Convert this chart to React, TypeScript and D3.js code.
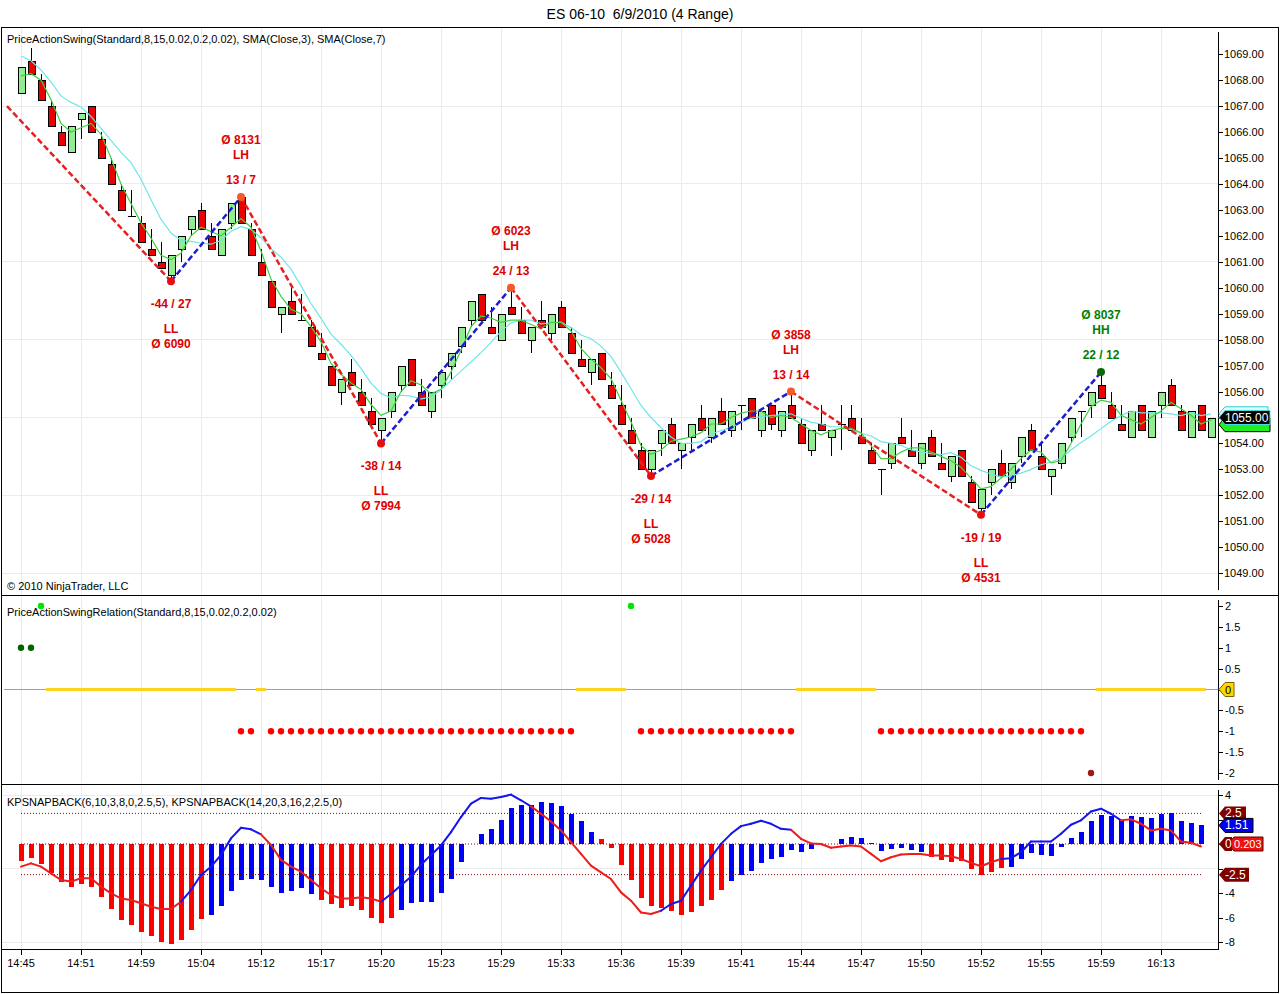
import * as d3 from 'd3';

// ES 06-10 4 Range, 6/9/2010 - one entry per range bar
const opens = [
  1067.5, 1068.75, 1068, 1067, 1066, 1065.25, 1066.5, 1067, 1065.75, 1064.75,
  1063.75, 1062.75, 1062.5, 1061.5, 1061, 1060.5, 1061.5, 1062.25, 1063, 1062,
  1061.25, 1062.5, 1063.5, 1062.25, 1061, 1060.25, 1059, 1059.5, 1058.75, 1058.5,
  1057.5, 1057, 1056, 1056.75, 1056, 1055.25, 1054.5, 1055.25, 1056.25, 1057.25,
  1056, 1055.25, 1056.25, 1057, 1057.75, 1058.75, 1059.75, 1058.5, 1058, 1059.25,
  1058.75, 1058, 1058.75, 1058.25, 1059.25, 1058.25, 1057.25, 1056.75, 1057.5, 1056.25,
  1055.5, 1054.5, 1053.75, 1053, 1054, 1054.75, 1053.75, 1054.25, 1055, 1054.25,
  1055.25, 1054.5, 1055.5, 1055.75, 1054.5, 1055.5, 1054.5, 1055.5, 1054.75, 1053.75,
  1054.75, 1054.25, 1054.75, 1055, 1054.25, 1053.75, 1053, 1053.25, 1054.25, 1053.75,
  1053.25, 1054.25, 1053.25, 1052.75, 1053.75, 1052.5, 1051.5, 1052.5, 1053.25, 1052.5,
  1053.5, 1054.5, 1053.5, 1052.75, 1053.25, 1054.25, 1055.25, 1055.5, 1056.25, 1055.5,
  1054.75, 1054.25, 1055.5, 1054.25, 1055.5, 1056.25, 1055.25, 1054.25, 1055.5, 1054.25,
];
const highs = [
  1068.5, 1069.25, 1068.25, 1067.25, 1066.25, 1066.25, 1066.75, 1067, 1066, 1065,
  1064, 1063.75, 1062.75, 1062.25, 1061.75, 1061.25, 1062, 1062.75, 1063.25, 1062.5,
  1062.25, 1063.25, 1063.5, 1062.5, 1061.5, 1060.25, 1059.25, 1060, 1059.75, 1058.75,
  1058.25, 1057, 1056.5, 1057.25, 1056.5, 1055.75, 1055, 1056, 1057, 1057.25,
  1056.5, 1056, 1056.75, 1057.5, 1058.5, 1059.5, 1059.75, 1059.25, 1059, 1060,
  1059.25, 1058.5, 1059.5, 1059, 1059.5, 1058.5, 1058, 1057.25, 1057.5, 1056.75,
  1056.25, 1055, 1054, 1053.75, 1054.5, 1055, 1054, 1054.75, 1055.5, 1055,
  1055.75, 1055.25, 1055.5, 1055.75, 1055.25, 1055.5, 1055.25, 1056, 1055, 1054.5,
  1055.5, 1054.5, 1055.5, 1055.5, 1055, 1054, 1053, 1054, 1055, 1054.5,
  1054, 1054.5, 1054, 1053.5, 1053.75, 1052.75, 1052.25, 1053, 1053.75, 1053.25,
  1054.25, 1054.75, 1054, 1053, 1054, 1055, 1055.25, 1056, 1056.75, 1056,
  1055.5, 1055.25, 1055.5, 1055.25, 1056, 1056.5, 1055.5, 1055.25, 1055.5, 1055,
];
const lows = [
  1067.5, 1068.25, 1067.25, 1066.25, 1065.5, 1065.25, 1065.75, 1066, 1065, 1064,
  1063, 1062.75, 1061.75, 1061.25, 1060.75, 1060.25, 1061, 1062, 1062.25, 1061.5,
  1061.25, 1062.25, 1062.5, 1061.25, 1060.5, 1059.25, 1058.25, 1059, 1058.75, 1057.75,
  1057.25, 1056.25, 1055.5, 1056.25, 1055.5, 1054.75, 1054, 1055, 1056, 1056.25,
  1055.5, 1055, 1055.75, 1056.5, 1057.5, 1058.5, 1058.75, 1058.25, 1058, 1059,
  1058.25, 1057.5, 1058.5, 1058, 1058.5, 1057.5, 1057, 1056.25, 1056.5, 1055.75,
  1054.75, 1054, 1053, 1052.75, 1053.5, 1054, 1053, 1053.75, 1054.5, 1054,
  1054.75, 1054.25, 1054.5, 1055, 1054.25, 1054.5, 1054.25, 1055, 1054, 1053.5,
  1054.5, 1053.5, 1053.75, 1054.5, 1054, 1053.25, 1052, 1053, 1054, 1053.5,
  1053, 1053.5, 1053, 1052.5, 1052.75, 1051.75, 1051.25, 1052, 1052.75, 1052.25,
  1053.25, 1053.75, 1053, 1052, 1053, 1054, 1054.25, 1055, 1055.75, 1055,
  1054.5, 1054.25, 1054.5, 1054.25, 1055, 1055.5, 1054.5, 1054.25, 1054.5, 1054.25,
];
const closes = [
  1068.5, 1068.25, 1067.25, 1066.25, 1065.5, 1066.25, 1066.75, 1066, 1065, 1064,
  1063, 1062.75, 1061.75, 1061.25, 1060.75, 1061.25, 1062, 1062.75, 1062.25, 1061.5,
  1062.25, 1063.25, 1062.5, 1061.25, 1060.5, 1059.25, 1059.25, 1059, 1058.75, 1057.75,
  1057.25, 1056.25, 1056.5, 1056.25, 1055.5, 1054.75, 1055, 1056, 1057, 1056.25,
  1055.5, 1056, 1056.75, 1057.5, 1058.5, 1059.5, 1058.75, 1058.25, 1059, 1059,
  1058.25, 1058.5, 1058.5, 1059, 1058.5, 1057.5, 1057, 1057.25, 1056.5, 1055.75,
  1054.75, 1054, 1053, 1053.75, 1054.5, 1054, 1054, 1054.75, 1054.5, 1055,
  1054.75, 1055.25, 1055.5, 1055, 1055.25, 1054.75, 1055.25, 1055, 1054, 1054.5,
  1054.5, 1054.5, 1054.75, 1054.5, 1054, 1053.25, 1053, 1054, 1054, 1053.5,
  1054, 1053.5, 1053, 1053.5, 1052.75, 1051.75, 1052.25, 1053, 1052.75, 1053.25,
  1054.25, 1053.75, 1053, 1053, 1054, 1055, 1055.25, 1056, 1055.75, 1055,
  1054.5, 1055.25, 1054.5, 1055.25, 1056, 1055.5, 1054.5, 1055.25, 1054.5, 1055,
];
// closes just before the visible window (needed for the SMAs)
const priorCloses = [1069.5, 1069.75, 1069.5, 1069.25, 1068, 1068];

const timeTickBars = [0, 6, 12, 18, 24, 30, 36, 42, 48, 54, 60, 66, 72, 78, 84, 90, 96, 102, 108, 114];
const timeLabels = ['14:45', '14:51', '14:59', '15:04', '15:12', '15:17', '15:20', '15:23', '15:29', '15:33',
  '15:36', '15:39', '15:41', '15:44', '15:47', '15:50', '15:52', '15:55', '15:59', '16:13'];

// swing points (first one starts left of the first visible bar)
const swingBars = [-1.4, 15, 22, 36, 49, 63, 77, 96, 108];
const swingPrices = [1067, 1060.25, 1063.5, 1054, 1060, 1052.75, 1056, 1051.25, 1056.75];
const swingLabels = [
  [],
  ['-44 / 27', 'LL', 'Ø 6090'],
  ['Ø 8131', 'LH', '13 / 7'],
  ['-38 / 14', 'LL', 'Ø 7994'],
  ['Ø 6023', 'LH', '24 / 13'],
  ['-29 / 14', 'LL', 'Ø 5028'],
  ['Ø 3858', 'LH', '13 / 14'],
  ['-19 / 19', 'LL', 'Ø 4531'],
  ['Ø 8037', 'HH', '22 / 12'],
];

// PriceActionSwingRelation
const relation = [
  1, 1, 2, 0, 0, 0, 0, 0, 0, 0,
  0, 0, 0, 0, 0, 0, 0, 0, 0, 0,
  0, 0, -1, -1, 0, -1, -1, -1, -1, -1,
  -1, -1, -1, -1, -1, -1, -1, -1, -1, -1,
  -1, -1, -1, -1, -1, -1, -1, -1, -1, -1,
  -1, -1, -1, -1, -1, -1, 0, 0, 0, 0,
  0, 2, -1, -1, -1, -1, -1, -1, -1, -1,
  -1, -1, -1, -1, -1, -1, -1, -1, 0, 0,
  0, 0, 0, 0, 0, 0, -1, -1, -1, -1,
  -1, -1, -1, -1, -1, -1, -1, -1, -1, -1,
  -1, -1, -1, -1, -1, -1, -1, -2, 0, 0,
  0, 0, 0, 0, 0, 0, 0, 0, 0,
];

// KPSNAPBACK histogram and line
const histValues = [
  -1.39, -1.17, -1.63, -2.39, -3.07, -3.48, -3.29, -3.48, -4.3, -5.3,
  -6.2, -6.6, -7.16, -7.48, -7.97, -8.19, -7.84, -7.02, -6.12, -5.8,
  -5.03, -3.84, -2.94, -2.86, -2.94, -3.48, -3.97, -3.84, -3.57, -4.08,
  -4.57, -4.92, -5.2, -5.03, -5.39, -6.01, -6.47, -6.07, -5.39, -4.84,
  -4.77, -4.77, -4.03, -2.86, -1.43, 0, 0.78, 1.19, 1.93, 2.94,
  3.16, 3.16, 3.43, 3.35, 3.1, 2.47, 1.84, 1.02, 0.37, -0.34,
  -1.68, -2.91, -4.44, -5.1, -5.26, -5.45, -5.81, -5.59, -5.1, -4.58,
  -3.76, -3.05, -2.53, -2.23, -1.57, -1.22, -1.08, -0.53, -0.67, -0.4,
  0, 0, 0.37, 0.61, 0.5, 0.05, -0.59, -0.4, -0.31, -0.53,
  -0.67, -1.08, -1.27, -1.49, -1.35, -2.04, -2.53, -2.31, -1.98, -1.9,
  -1.22, -0.75, -0.86, -0.94, -0.26, 0.5, 1.02, 1.84, 2.34, 2.28,
  1.98, 2.28, 2.2, 2.14, 2.47, 2.55, 1.84, 1.73, 1.52,
];
const histColorRuns: [string, number][] = [['R', 19], ['B', 11], ['R', 8], ['B', 20], ['R', 13], ['B', 20], ['R', 8], ['B', 20]];
const lineValues = [
  -1.85, -1.58, -1.85, -2.4, -2.94, -3.07, -2.8, -2.8, -3.48, -4.03,
  -4.44, -4.57, -4.84, -5.12, -5.3, -5.3, -4.71, -3.76, -2.53, -1.85,
  -0.9, 0.46, 1.33, 1.2, 0.79, -0.08, -1.3, -1.85, -2.26, -2.94,
  -3.62, -4.16, -4.44, -4.44, -4.35, -4.44, -4.71, -4.08, -3.37, -2.67,
  -1.7, -0.89, -0.12, 0.97, 2.2, 3.29, 3.76, 3.7, 3.84, 4.03,
  3.57, 3.07, 2.47, 1.84, 1.11, 0.15, -0.81, -1.76, -2.31, -2.86,
  -3.95, -4.63, -5.59, -5.72, -5.45, -4.9, -4.63, -3.4, -2.17, -1.08,
  0.01, 0.83, 1.46, 1.65, 1.9, 1.65, 1.24, 1.16, 0.42, 0.05,
  0, -0.31, -0.2, -0.12, -0.2, -0.81, -1.41, -1.08, -0.86, -0.81,
  -0.81, -0.94, -0.94, -1.0, -1.22, -1.54, -1.82, -1.49, -1.22, -1.16,
  -0.67, 0.2, 0.2, 0.2, 0.83, 1.57, 1.93, 2.66, 2.88, 2.47,
  1.93, 2.01, 1.65, 1.11, 1.24, 1.11, 0.2, 0.1, -0.2,
];
const lineColorRuns: [string, number][] = [['R', 17], ['B', 8], ['R', 12], ['B', 15], ['R', 13], ['B', 13], ['R', 21], ['B', 12], ['R', 8]];

const FONT = '"Liberation Sans", Arial, Helvetica, sans-serif';
const RED = '#ff0000';
const BLUE = '#0000ff';

const expand = (runs: [string, number][]) => runs.flatMap(([c, n]) => Array(n).fill(c));

function Tag({ x0, x1, y, fill, stroke, text, color, size = 11 }:
  { x0: number; x1: number; y: number; fill: string; stroke?: string; text?: string; color?: string; size?: number }) {
  const h = 7;
  const pts = [[x0, y], [x0 + 6, y - h], [x1, y - h], [x1, y + h], [x0 + 6, y + h]].map(p => p.join(',')).join(' ');
  return (
    <g>
      <polygon points={pts} fill={fill} stroke={stroke || 'none'} />
      {text && (
        <text x={x0 + 6} y={y} dominantBaseline="central" fontSize={size} fill={color} fontFamily={FONT}>{text}</text>
      )}
    </g>
  );
}

export default function App() {
  const W = 1280;
  const H = 994;
  const axisX = 1218;

  const x = d3.scaleLinear().domain([0, 119]).range([21, 1211]);
  const yP = d3.scaleLinear().domain([1049, 1069]).range([573.2, 54.2]);
  const yR = d3.scaleLinear().domain([-2, 2]).range([773, 606]);
  const yK = d3.scaleLinear().domain([-8, 4]).range([942, 795]);

  const all = [...priorCloses, ...closes];
  const off = priorCloses.length;
  const sma = (n: number) => closes.map((_, i) => d3.mean(all.slice(i + off - n + 1, i + off + 1)) as number);
  const sma3 = sma(3);
  const sma7 = sma(7);
  const priceLine = d3.line<number>().x((_, i) => x(i)).y(v => yP(v));

  const histColors = expand(histColorRuns);
  const lineColors = expand(lineColorRuns);

  const lastClose = closes[closes.length - 1];
  const priceGrid = [1049, 1052, 1055, 1058, 1061, 1064, 1067];
  const kGrid = [4, -2, -8];
  const priceTicks = yP.ticks(20);
  const relTicks = [2, 1.5, 1, 0.5, 0, -0.5, -1, -1.5, -2];
  const kTicks = [4, 2, 0, -2, -4, -6, -8];
  // tick labels hidden behind the value markers on the axes
  const kTagged = [2, 0, -2];

  const relColor: Record<string, string> = { '2': '#00e600', '1': '#006400', '-1': '#ff0000', '-2': '#a01818' };
  const gridColor = '#ebebeb';

  const vGrid = (y1: number, y2: number) => timeTickBars.map(b => (
    <line key={b} x1={x(b)} x2={x(b)} y1={y1} y2={y2} stroke={gridColor} />
  ));

  return (
    <div style={{ position: 'absolute', left: 0, top: 0, width: W, height: H, background: '#fff' }}>
      <svg width={W} height={H} style={{ display: 'block' }} fontFamily={FONT}>
        <rect x={0} y={0} width={W} height={H} fill="#fff" />
        <text x={640} y={14} textAnchor="middle" dominantBaseline="central" fontSize={14} fill="#000"
          style={{ whiteSpace: 'pre' }}>
          {'ES 06-10  6/9/2010 (4 Range)'}
        </text>

        {/* ---------- price panel ---------- */}
        <g shapeRendering="crispEdges">
          {vGrid(28, 594)}
          {priceGrid.map(p => (
            <line key={p} x1={2} x2={axisX} y1={yP(p)} y2={yP(p)} stroke={gridColor} />
          ))}
        </g>
        <text x={7} y={39} dominantBaseline="central" fontSize={11} fill="#000">
          PriceActionSwing(Standard,8,15,0.02,0.2,0.02), SMA(Close,3), SMA(Close,7)
        </text>
        <text x={7} y={586} dominantBaseline="central" fontSize={11} fill="#000">© 2010 NinjaTrader, LLC</text>

        <g shapeRendering="crispEdges">
          {opens.map((o, i) => {
            const c = closes[i];
            const cx = Math.round(x(i)) + 0.5;
            const top = Math.round(yP(Math.max(o, c)));
            const bot = Math.round(yP(Math.min(o, c)));
            return (
              <g key={i}>
                <line x1={cx} x2={cx} y1={yP(highs[i])} y2={yP(lows[i])} stroke="#000" />
                {o === c
                  ? <line x1={cx - 4} x2={cx + 4} y1={top + 0.5} y2={top + 0.5} stroke="#000" />
                  : <rect x={cx - 3.5} y={top + 0.5} width={7} height={bot - top} fill={c > o ? '#90ee90' : '#ee0000'} stroke="#000" />}
              </g>
            );
          })}
        </g>

        <path d={priceLine(sma7) || ''} fill="none" stroke="#6ee6e6" strokeWidth={1.2} />
        <path d={priceLine(sma3) || ''} fill="none" stroke="#3fcf3f" strokeWidth={1.2} />

        {swingBars.slice(1).map((b, k) => {
          const a = swingBars[k];
          const pa = swingPrices[k];
          const pb = swingPrices[k + 1];
          return (
            <line key={b} x1={x(a)} y1={yP(pa)} x2={x(b)} y2={yP(pb)}
              stroke={pb < pa ? '#e42020' : '#1c1cd0'} strokeWidth={2.5} strokeDasharray="6,3" />
          );
        })}

        {swingBars.map((b, k) => {
          if (k === 0) return null;
          const p = swingPrices[k];
          const isHigh = p > swingPrices[k - 1];
          const higher = isHigh && swingLabels[k][1] === 'HH';
          const cx = x(b);
          const cy = yP(p);
          const dotFill = higher ? '#0a6a0a' : isHigh ? '#f45a2a' : '#e80c0c';
          const txtFill = higher ? '#008000' : '#dd0000';
          const offs = isHigh ? [-57, -42, -17] : [23, 48, 63];
          return (
            <g key={b}>
              <circle cx={cx} cy={cy} r={4} fill={dotFill} />
              {swingLabels[k].map((t, j) => (
                <text key={j} x={cx} y={cy + offs[j]} textAnchor="middle" dominantBaseline="central"
                  fontSize={12} fontWeight="bold" fill={txtFill}>{t}</text>
              ))}
            </g>
          );
        })}

        {/* price axis */}
        <g shapeRendering="crispEdges">
          <line x1={axisX + 0.5} x2={axisX + 0.5} y1={32} y2={590} stroke="#000" />
          {priceTicks.map(p => (
            <line key={p} x1={axisX} x2={axisX + 5} y1={Math.round(yP(p)) + 0.5} y2={Math.round(yP(p)) + 0.5} stroke="#000" />
          ))}
        </g>
        {priceTicks.filter(p => p !== lastClose).map(p => (
          <text key={p} x={axisX + 6} y={yP(p)} dominantBaseline="central" fontSize={11} fill="#000">{p.toFixed(2)}</text>
        ))}
        <Tag x0={axisX + 1} x1={1268} y={yP(sma7[sma7.length - 1])} fill="#dff" stroke="#3cc" />
        <Tag x0={axisX + 1} x1={1270} y={yP(sma3[sma3.length - 1]) + 5} fill="#22ee22" stroke="#000" />
        <Tag x0={axisX + 1} x1={1270} y={yP(lastClose)} fill="#000" stroke="#4dd" text={lastClose.toFixed(2)} color="#fff" size={12} />

        {/* ---------- swing relation panel ---------- */}
        <g shapeRendering="crispEdges">
          {vGrid(597, 783)}
          <line x1={4} x2={axisX} y1={yR(0)} y2={yR(0)} stroke="#a0a0a0" />
        </g>
        <text x={7} y={612} dominantBaseline="central" fontSize={11} fill="#000">
          PriceActionSwingRelation(Standard,8,15,0.02,0.2,0.02)
        </text>
        {relation.map((v, i) => v === 0
          ? <line key={i} x1={x(i) - 5} x2={x(i) + 5} y1={yR(0)} y2={yR(0)} stroke="#ffd21e" strokeWidth={3} />
          : <circle key={i} cx={x(i)} cy={yR(v)} r={3.2} fill={relColor[String(v)]} />)}
        <g shapeRendering="crispEdges">
          <line x1={axisX + 0.5} x2={axisX + 0.5} y1={600} y2={780} stroke="#000" />
          {relTicks.map(v => (
            <line key={v} x1={axisX} x2={axisX + 5} y1={Math.round(yR(v)) + 0.5} y2={Math.round(yR(v)) + 0.5} stroke="#000" />
          ))}
        </g>
        {relTicks.filter(v => v !== 0).map(v => (
          <text key={v} x={axisX + 7} y={yR(v)} dominantBaseline="central" fontSize={11} fill="#000">{String(v)}</text>
        ))}
        <Tag x0={axisX + 1} x1={1234} y={yR(0)} fill="#ffd700" stroke="#806000" text="0" color="#000" />

        {/* ---------- KPSNAPBACK panel ---------- */}
        <g shapeRendering="crispEdges">
          {vGrid(786, 949)}
          {kGrid.map(v => (
            <line key={v} x1={2} x2={axisX} y1={yK(v)} y2={yK(v)} stroke={gridColor} />
          ))}
        </g>
        <text x={7} y={802} dominantBaseline="central" fontSize={11} fill="#000">
          KPSNAPBACK(6,10,3,8,0,2.5,5), KPSNAPBACK(14,20,3,16,2,2.5,0)
        </text>
        <g shapeRendering="crispEdges">
          {histValues.map((v, i) => {
            const y0 = yK(0);
            const y1 = yK(v);
            return (
              <rect key={i} x={x(i) - 2.5} y={Math.min(y0, y1)} width={5} height={Math.max(Math.abs(y1 - y0), 0.01)}
                fill={histColors[i] === 'R' ? RED : BLUE} />
            );
          })}
        </g>
        {[2.5, 0, -2.5].map(v => (
          <line key={v} x1={x(0)} x2={x(118)} y1={yK(v)} y2={yK(v)} stroke="#800000" strokeDasharray="1,2" />
        ))}
        {lineValues.slice(1).map((v, k) => (
          <line key={k} x1={x(k)} y1={yK(lineValues[k])} x2={x(k + 1)} y2={yK(v)}
            stroke={lineColors[k + 1] === 'R' ? '#ee1c1c' : '#1414f0'} strokeWidth={2} strokeLinecap="round" />
        ))}
        <g shapeRendering="crispEdges">
          <line x1={axisX + 0.5} x2={axisX + 0.5} y1={790} y2={950} stroke="#000" />
          {kTicks.map(v => (
            <line key={v} x1={axisX} x2={axisX + 5} y1={Math.round(yK(v)) + 0.5} y2={Math.round(yK(v)) + 0.5} stroke="#000" />
          ))}
        </g>
        {kTicks.filter(v => !kTagged.includes(v)).map(v => (
          <text key={v} x={axisX + 7} y={yK(v)} dominantBaseline="central" fontSize={11} fill="#000">{String(v)}</text>
        ))}
        <Tag x0={axisX + 1} x1={1246} y={yK(2.5)} fill="#800000" text="2.5" color="#fff" size={12} />
        <Tag x0={axisX + 10} x1={1263} y={yK(0)} fill="#ee1111" stroke="#600" text="0.203" color="#fff" size={11} />
        <Tag x0={axisX + 1} x1={1232} y={yK(0)} fill="#800000" text="0" color="#fff" size={12} />
        <Tag x0={axisX + 1} x1={1253} y={yK(histValues[histValues.length - 1])} fill="#0000ee" stroke="#000" text="1.51" color="#fff" size={12} />
        <Tag x0={axisX + 1} x1={1249} y={yK(-2.5)} fill="#800000" text="-2.5" color="#fff" size={12} />

        {/* ---------- time axis & frame ---------- */}
        <g shapeRendering="crispEdges">
          <line x1={1} x2={axisX + 1} y1={949.5} y2={949.5} stroke="#000" />
          {timeTickBars.map(b => (
            <line key={b} x1={Math.round(x(b)) + 0.5} x2={Math.round(x(b)) + 0.5} y1={950} y2={955} stroke="#000" />
          ))}
          <line x1={1} x2={1279} y1={595.5} y2={595.5} stroke="#000" />
          <line x1={1} x2={1279} y1={784.5} y2={784.5} stroke="#000" />
          <rect x={1.5} y={27.5} width={1277} height={965} fill="none" stroke="#000" />
        </g>
        {timeTickBars.map((b, k) => (
          <text key={b} x={x(b)} y={963} textAnchor="middle" dominantBaseline="central" fontSize={11} fill="#000">
            {timeLabels[k]}
          </text>
        ))}
      </svg>
    </div>
  );
}
